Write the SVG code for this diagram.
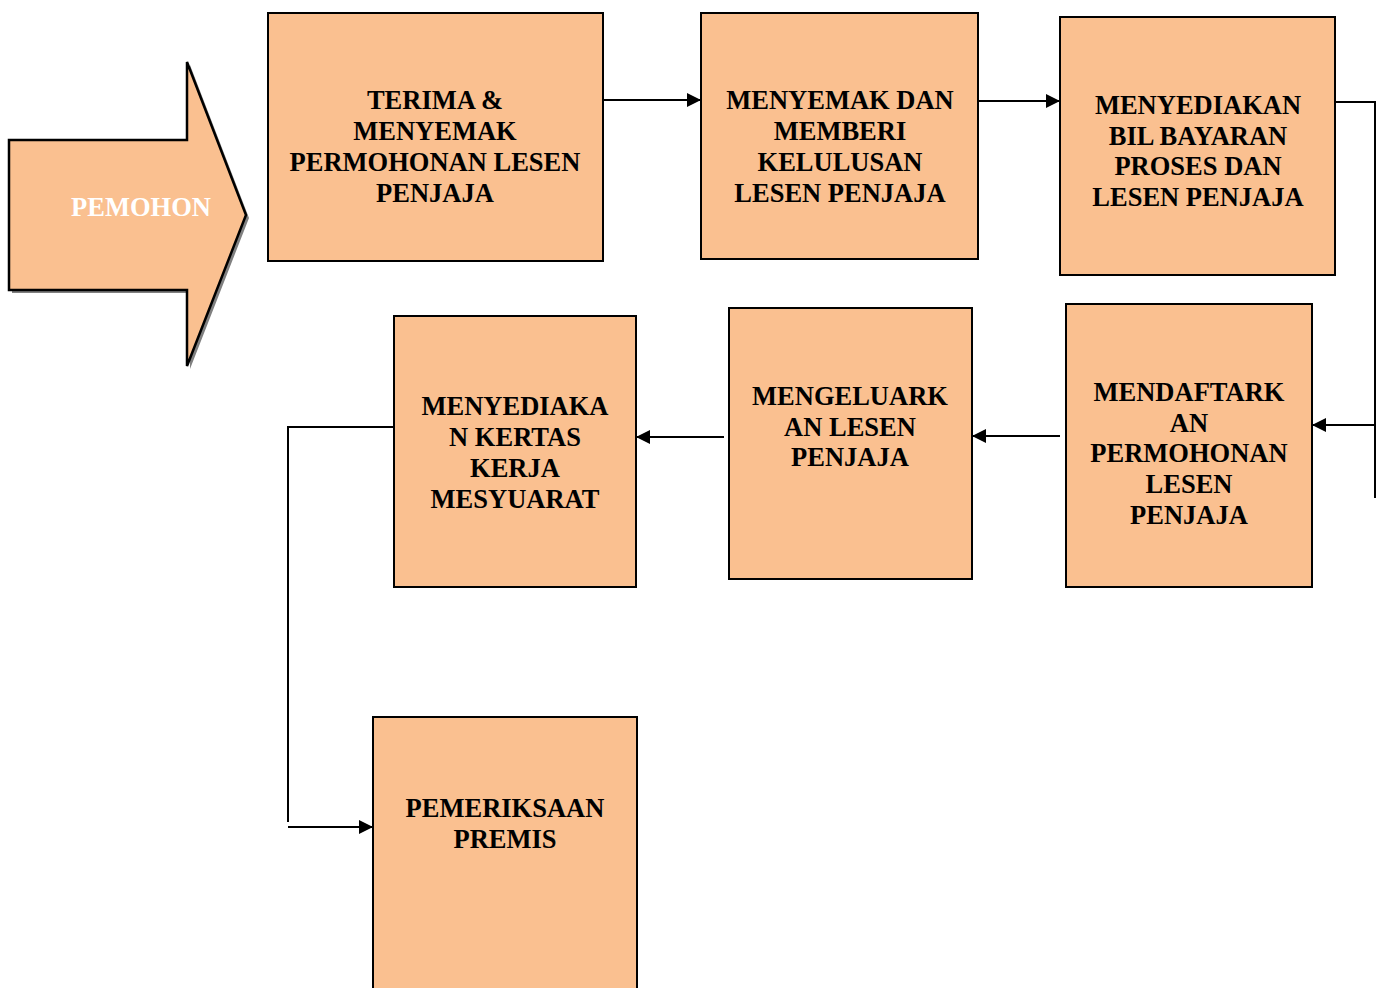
<svg xmlns="http://www.w3.org/2000/svg" width="1381" height="988" viewBox="0 0 1381 988">
<defs>
<style>
.box{fill:#FAC090;stroke:#000;stroke-width:2}
.t{font-family:"Liberation Serif","Times New Roman",serif;font-weight:bold;font-size:26.5px;text-anchor:middle;fill:#000}
.c{fill:none;stroke:#000;stroke-width:2}
</style>
<marker id="ah" viewBox="0 0 10 10" refX="10" refY="5" markerWidth="16" markerHeight="14" markerUnits="userSpaceOnUse" orient="auto">
<path d="M0,0 L10,5 L0,10 Z" fill="#000"/>
</marker>
</defs>
<rect width="1381" height="988" fill="#fff"/>
<g id="pemohon">
<polygon points="12,143 190,143 190,65 249,218 190,369 190,293 12,293" fill="#808080"/>
<polygon points="9,140 187,140 187,62 246,215 187,366 187,290 9,290" fill="#FAC090" stroke="#000" stroke-width="2.5"/>
<text x="141" y="216" class="t" style="fill:#fff">PEMOHON</text>
</g>
<g id="n1">
<rect x="268" y="13" width="335" height="248" class="box"/>
<text class="t"><tspan x="435" y="109">TERIMA &amp;</tspan><tspan x="435" y="140">MENYEMAK</tspan><tspan x="435" y="171">PERMOHONAN LESEN</tspan><tspan x="435" y="202">PENJAJA</tspan></text>
</g>
<g id="n2">
<rect x="701" y="13" width="277" height="246" class="box"/>
<text class="t"><tspan x="840" y="109">MENYEMAK DAN</tspan><tspan x="840" y="140">MEMBERI</tspan><tspan x="840" y="171">KELULUSAN</tspan><tspan x="840" y="202">LESEN PENJAJA</tspan></text>
</g>
<g id="n3">
<rect x="1060" y="17" width="275" height="258" class="box"/>
<text class="t"><tspan x="1198" y="114">MENYEDIAKAN</tspan><tspan x="1198" y="145">BIL BAYARAN</tspan><tspan x="1198" y="175">PROSES DAN</tspan><tspan x="1198" y="206">LESEN PENJAJA</tspan></text>
</g>
<g id="n4">
<rect x="1066" y="304" width="246" height="283" class="box"/>
<text class="t"><tspan x="1189" y="401">MENDAFTARK</tspan><tspan x="1189" y="432">AN</tspan><tspan x="1189" y="462">PERMOHONAN</tspan><tspan x="1189" y="493">LESEN</tspan><tspan x="1189" y="524">PENJAJA</tspan></text>
</g>
<g id="n5">
<rect x="729" y="308" width="243" height="271" class="box"/>
<text class="t"><tspan x="850" y="405">MENGELUARK</tspan><tspan x="850" y="436">AN LESEN</tspan><tspan x="850" y="466">PENJAJA</tspan></text>
</g>
<g id="n6">
<rect x="394" y="316" width="242" height="271" class="box"/>
<text class="t"><tspan x="515" y="415">MENYEDIAKA</tspan><tspan x="515" y="446">N KERTAS</tspan><tspan x="515" y="477">KERJA</tspan><tspan x="515" y="508">MESYUARAT</tspan></text>
</g>
<g id="n7">
<rect x="373" y="717" width="264" height="280" class="box"/>
<text class="t"><tspan x="505" y="817">PEMERIKSAAN</tspan><tspan x="505" y="848">PREMIS</tspan></text>
</g>
<g id="connectors">
<path d="M603,100 H701" class="c" marker-end="url(#ah)"/>
<path d="M978,101 H1060" class="c" marker-end="url(#ah)"/>
<path d="M1335,102 H1375 V498" class="c"/>
<path d="M1375,425 H1312" class="c" marker-end="url(#ah)"/>
<path d="M1060,436 H972" class="c" marker-end="url(#ah)"/>
<path d="M724,437 H636" class="c" marker-end="url(#ah)"/>
<path d="M394,427 H288 V822" class="c"/>
<path d="M288,827 H373" class="c" marker-end="url(#ah)"/>
</g>
</svg>
